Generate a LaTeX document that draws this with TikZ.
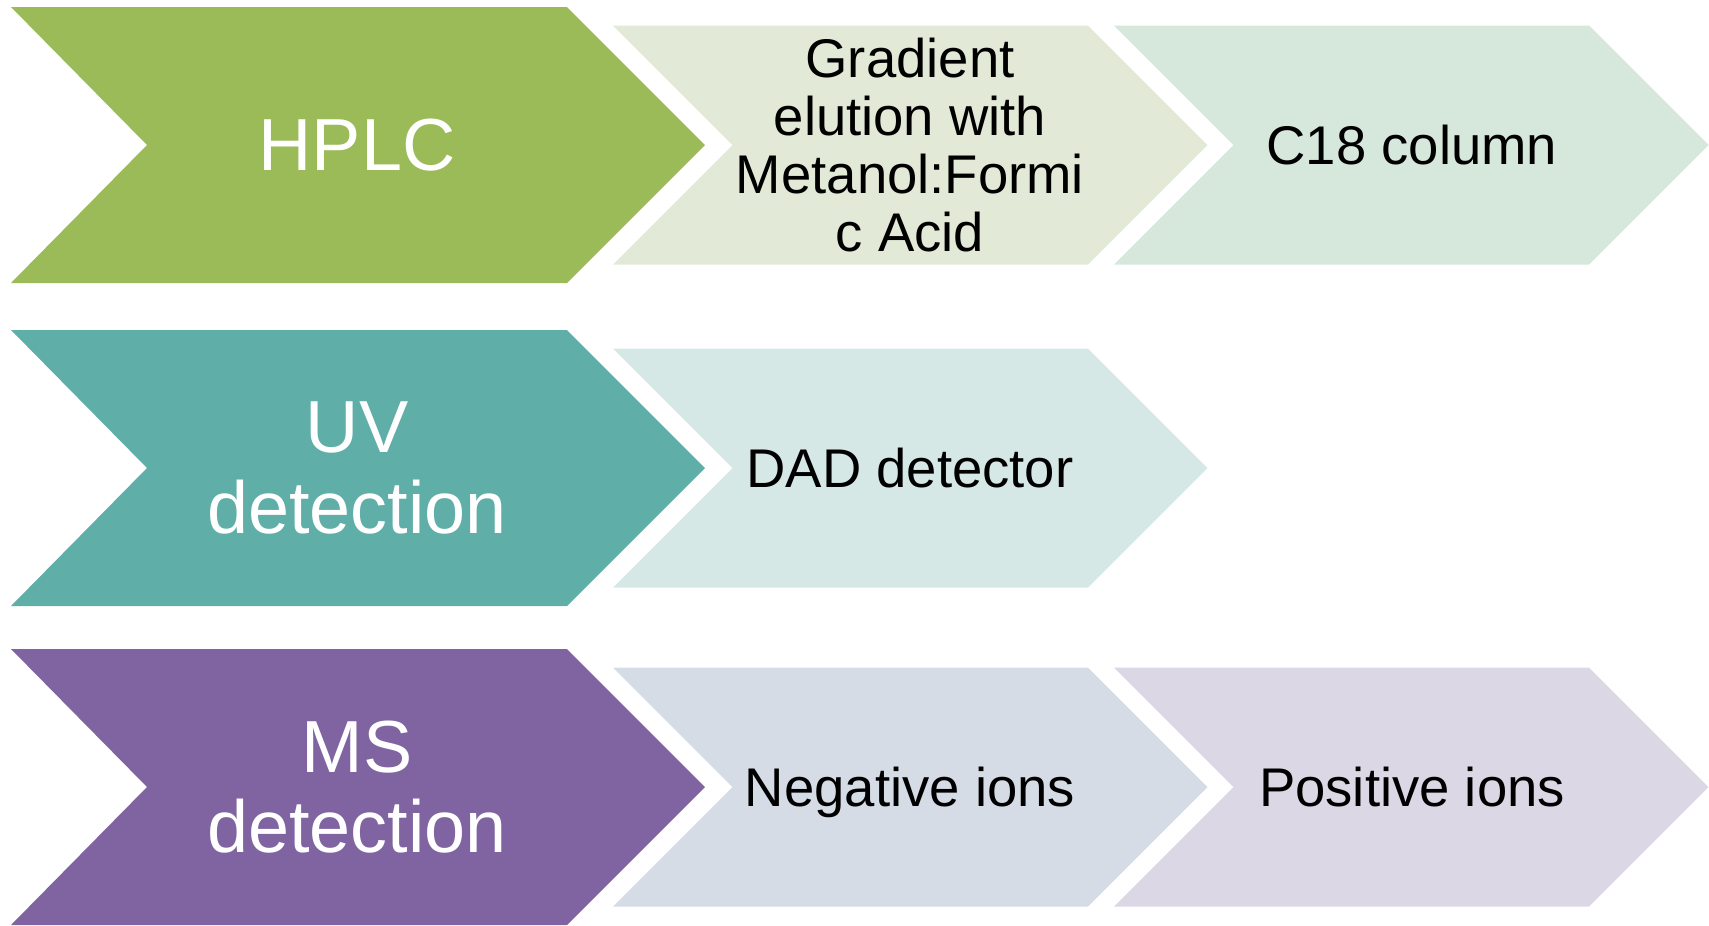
\documentclass[tikz,border=0pt]{standalone}
\usepackage{fontspec}
\setmainfont{Liberation Sans}
\definecolor{hplcgreen}{HTML}{9BBB59}
\definecolor{uvteal}{HTML}{5FAEA7}
\definecolor{mspurple}{HTML}{8064A2}
\definecolor{gradfill}{HTML}{E2E9D6}
\definecolor{colfill}{HTML}{D6E7DC}
\definecolor{dadfill}{HTML}{D6E8E6}
\definecolor{negfill}{HTML}{D6DCE5}
\definecolor{posfill}{HTML}{DCD7E5}
\begin{document}
\begin{tikzpicture}[x=0.1mm,y=-0.1mm,line join=round,
	bigtxt/.style={text=white,align=center,font=\fontsize{21}{23}\selectfont},
	smalltxt/.style={text=black,align=center,font=\fontsize{15.5}{16.5}\selectfont}]
				\def\H{138};
				\def\h{119.5};
				\useasboundingbox (0,0) rectangle (1709,925);
				% big chevrons
				\foreach \y/\c in {145/hplcgreen,468/uvteal,787/mspurple}
				\fill[\c] (11,\y-\H) -- (567,\y-\H) -- (705,\y) -- (567,\y+\H) -- (11,\y+\H) -- (147,\y) -- cycle;
				% small chevrons
				\foreach \x/\y/\c in {613/145/gradfill,1114/145/colfill,613/468/dadfill,613/787/negfill,1114/787/posfill}
				\fill[\c] (\x,\y-\h) -- ++(475,0) -- ++(\h,\h) -- ++(-\h,\h) -- ++(-475,0) -- ++(\h,-\h) -- cycle;
				\node[bigtxt] (hplc) at (357,145) {HPLC};
				\node[bigtxt] (uv) at (357,468) {UV\\detection};
				\node[bigtxt] (ms) at (357,787) {MS\\detection};
				\node[smalltxt] (grad) at (910,145) {Gradient\\elution with\\Metanol:Formi\\c Acid};
				\node[smalltxt] (col) at (1412,145) {C18 column};
				\node[smalltxt] (dad) at (910,468) {DAD detector};
				\node[smalltxt,text depth=0pt] (neg) at (910,787) {Negative ions};
				\node[smalltxt] (pos) at (1412,787) {Positive ions};
			\end{tikzpicture}
\end{document}
